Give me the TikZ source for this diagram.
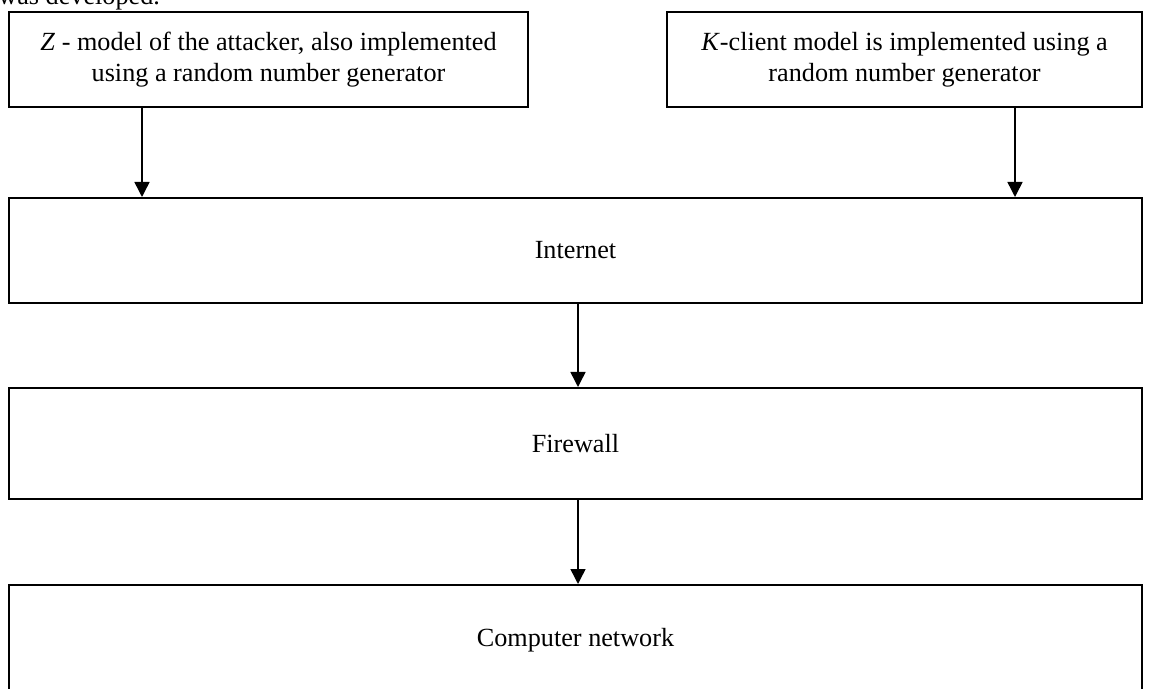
\documentclass[tikz,border=0pt]{standalone}
\usepackage{fontspec}
\setmainfont{Liberation Serif}
\usetikzlibrary{arrows.meta}

\begin{document}
\begin{tikzpicture}[x=0.5pt, y=-0.5pt,
    block/.style={draw, line width=1pt, inner sep=0pt, align=center,
                  font=\fontsize{13.1}{15.6}\selectfont},
    flow/.style={-{Triangle[length=7.5pt,width=7.5pt]}, line width=0.75pt}]
                    \useasboundingbox (0,0) rectangle (1151,689);

                    % Tail of the sentence above
                    \node[anchor=base west, inner sep=0pt, font=\fontsize{13.1}{15.6}\selectfont] (tail) at (-2,5) {was developed.};

                    % Source models
                    \node[block, minimum width=259.5pt, minimum height=47.5pt] (attacker) at (268.5,59.5)
                        {\textit{Z} - model of the attacker, also implemented\\ using a random number generator};
                    \node[block, minimum width=237.5pt, minimum height=47.5pt] (client) at (904.5,59.5)
                        {\textit{K}-client model is implemented using a\\ random number generator};

                    % Chain of wide blocks
                    \node[block, minimum width=566.5pt, minimum height=52.5pt] (internet) at (575.5,250.5) {Internet};
                    \node[block, minimum width=566.5pt, minimum height=55.5pt] (firewall) at (575.5,443.5) {Firewall};
                    \node[block, minimum width=566.5pt, minimum height=55.5pt] (network) at (575.5,640.5) {Computer network};

                    % Arrow columns
                    \coordinate (zx) at (142,0);
                    \coordinate (kx) at (1015,0);
                    \coordinate (mx) at (578,0);

                    \draw[flow] (zx |- attacker.south) -- (zx |- internet.north);
                    \draw[flow] (kx |- client.south) -- (kx |- internet.north);
                    \draw[flow] (mx |- internet.south) -- (mx |- firewall.north);
                    \draw[flow] (mx |- firewall.south) -- (mx |- network.north);
                \end{tikzpicture}
\end{document}
